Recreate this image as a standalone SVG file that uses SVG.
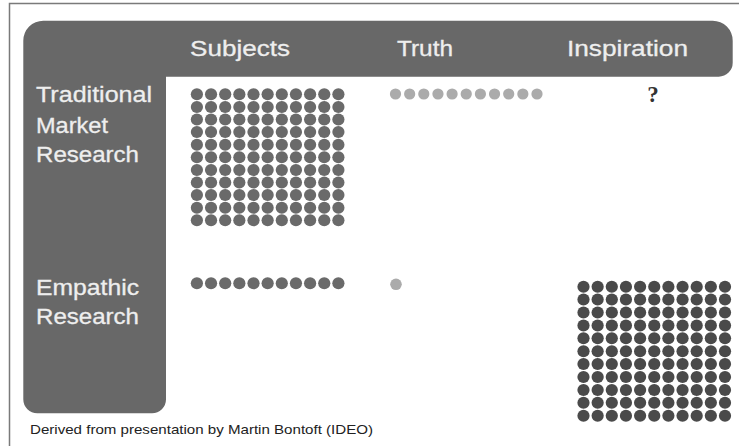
<svg xmlns="http://www.w3.org/2000/svg" xmlns:xlink="http://www.w3.org/1999/xlink" width="739" height="446" viewBox="0 0 739 446">
<style>
.lbl{font-family:"Liberation Sans",Arial,sans-serif;font-size:22px;fill:#eeeeee;stroke:#eeeeee;stroke-width:0.3}
.cap{font-family:"Liberation Sans",Arial,sans-serif;font-size:13.5px;fill:#222222}
.q{font-family:"Liberation Serif","Times New Roman",serif;font-size:23px;font-weight:bold;fill:#333333}
.dk{fill:#6a6a6a}
.dd{fill:#4a4a4a}
.lt{fill:#ababab}
</style>
<defs>
<g id="row">
<ellipse cx="0" cy="0" rx="6.1" ry="6"/>
<ellipse cx="14.15" cy="0" rx="6.1" ry="6"/>
<ellipse cx="28.3" cy="0" rx="6.1" ry="6"/>
<ellipse cx="42.45" cy="0" rx="6.1" ry="6"/>
<ellipse cx="56.6" cy="0" rx="6.1" ry="6"/>
<ellipse cx="70.75" cy="0" rx="6.1" ry="6"/>
<ellipse cx="84.9" cy="0" rx="6.1" ry="6"/>
<ellipse cx="99.05" cy="0" rx="6.1" ry="6"/>
<ellipse cx="113.2" cy="0" rx="6.1" ry="6"/>
<ellipse cx="127.35" cy="0" rx="6.1" ry="6"/>
<ellipse cx="141.5" cy="0" rx="6.1" ry="6"/>
</g>
<g id="lrow">
<circle cx="0" cy="0" r="5.6"/>
<circle cx="14.15" cy="0" r="5.6"/>
<circle cx="28.3" cy="0" r="5.6"/>
<circle cx="42.45" cy="0" r="5.6"/>
<circle cx="56.6" cy="0" r="5.6"/>
<circle cx="70.75" cy="0" r="5.6"/>
<circle cx="84.9" cy="0" r="5.6"/>
<circle cx="99.05" cy="0" r="5.6"/>
<circle cx="113.2" cy="0" r="5.6"/>
<circle cx="127.35" cy="0" r="5.6"/>
<circle cx="141.5" cy="0" r="5.6"/>
</g>
</defs>
<rect x="0" y="0" width="739" height="446" fill="#ffffff"/>
<path d="M9.5,446 V3.5 H739" fill="none" stroke="#7a7a7a" stroke-width="1.5"/>
<g id="frame">
<path d="M23.3,40.7 A20,20 0 0 1 43.3,20.7 H712.7 A20,20 0 0 1 732.7,40.7 V62.7 A14,14 0 0 1 718.7,76.7 H166 V399.3 A14,14 0 0 1 152,413.3 H37.3 A14,14 0 0 1 23.3,399.3 Z" fill="#686868"/>
</g>
<g id="headers">
<text class="lbl" x="190" y="56" textLength="100" lengthAdjust="spacingAndGlyphs">Subjects</text>
<text class="lbl" x="397" y="56" textLength="56" lengthAdjust="spacingAndGlyphs">Truth</text>
<text class="lbl" x="567" y="56" textLength="121" lengthAdjust="spacingAndGlyphs">Inspiration</text>
</g>
<g id="traditional">
<text class="lbl" x="36" y="102" textLength="116" lengthAdjust="spacingAndGlyphs">Traditional</text>
<text class="lbl" x="36" y="132.5" textLength="72" lengthAdjust="spacingAndGlyphs">Market</text>
<text class="lbl" x="36" y="162.3" textLength="103" lengthAdjust="spacingAndGlyphs">Research</text>
</g>
<g id="empathic">
<text class="lbl" x="36" y="295" textLength="103" lengthAdjust="spacingAndGlyphs">Empathic</text>
<text class="lbl" x="36" y="324.3" textLength="103" lengthAdjust="spacingAndGlyphs">Research</text>
</g>
<g id="trad-subjects" class="dk">
<use xlink:href="#row" x="196.9" y="94.3"/>
<use xlink:href="#row" x="196.9" y="106.9"/>
<use xlink:href="#row" x="196.9" y="119.5"/>
<use xlink:href="#row" x="196.9" y="132.1"/>
<use xlink:href="#row" x="196.9" y="144.7"/>
<use xlink:href="#row" x="196.9" y="157.3"/>
<use xlink:href="#row" x="196.9" y="169.9"/>
<use xlink:href="#row" x="196.9" y="182.5"/>
<use xlink:href="#row" x="196.9" y="195.1"/>
<use xlink:href="#row" x="196.9" y="207.7"/>
<use xlink:href="#row" x="196.9" y="220.3"/>
</g>
<g id="trad-truth" class="lt">
<use xlink:href="#lrow" x="395.5" y="94"/>
</g>
<g id="trad-inspiration">
<text class="q" x="653" y="102" text-anchor="middle">?</text>
</g>
<g id="emp-subjects" class="dk">
<use xlink:href="#row" x="196.9" y="283.3"/>
</g>
<g id="emp-truth" class="lt">
<circle cx="396" cy="284.3" r="5.8"/>
</g>
<g id="emp-inspiration" class="dd">
<use xlink:href="#row" x="583.5" y="286.7"/>
<use xlink:href="#row" x="583.5" y="299.6"/>
<use xlink:href="#row" x="583.5" y="312.5"/>
<use xlink:href="#row" x="583.5" y="325.4"/>
<use xlink:href="#row" x="583.5" y="338.3"/>
<use xlink:href="#row" x="583.5" y="351.2"/>
<use xlink:href="#row" x="583.5" y="364.1"/>
<use xlink:href="#row" x="583.5" y="377"/>
<use xlink:href="#row" x="583.5" y="389.9"/>
<use xlink:href="#row" x="583.5" y="402.8"/>
<use xlink:href="#row" x="583.5" y="415.7"/>
</g>
<g id="caption">
<text class="cap" x="30" y="434" textLength="343" lengthAdjust="spacingAndGlyphs">Derived from presentation by Martin Bontoft (IDEO)</text>
</g>
</svg>
